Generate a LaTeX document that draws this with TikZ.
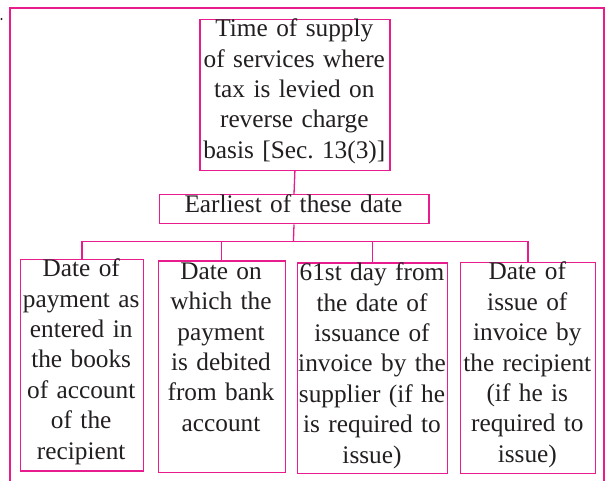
\documentclass[tikz,border=0pt]{standalone}
\usepackage{fontspec}
\setmainfont{Liberation Serif}
\definecolor{mag}{RGB}{232,28,140}
\definecolor{ink}{RGB}{35,31,32}
\frenchspacing
\begin{document}
\begin{tikzpicture}[x=1pt,y=-1pt,
  box/.style={draw=mag,line width=1.2pt,inner sep=0pt,anchor=north west},
  txt/.style={text=ink,font=\fontsize{25.3}{30.4}\selectfont,align=center,text width=320pt,inner sep=0pt,anchor=base},
  link/.style={draw=mag,line width=1.3pt},
  frame/.style={draw=mag,line width=1.4pt}]
\useasboundingbox (0,0) rectangle (606,481);
\fill[white] (0,0) rectangle (606,481);
% outer frame
\coordinate (fa) at (10,481);
\coordinate (fb) at (10,8);
\coordinate (fc) at (604,8);
\coordinate (fd) at (604,481);
\draw[frame] (fa) -- (fb) -- (fc) -- (fd);
\fill[ink] (1.5,19) circle (1.1pt);
% boxes
\node[box,minimum width=190pt,minimum height=151pt] (top) at (199.3,19) {};
\node[box,minimum width=269.8pt,minimum height=29.3pt] (earliest) at (158.5,194) {};
\node[box,minimum width=123.5pt,minimum height=211.5pt] (b1) at (19.5,259) {};
\node[box,minimum width=127.1pt,minimum height=211.2pt] (b2) at (157.5,260.5) {};
\node[box,minimum width=150pt,minimum height=210.8pt] (b3) at (297,262.5) {};
\node[box,minimum width=134.7pt,minimum height=210.7pt] (b4) at (460,262) {};
% texts
\node[txt] (ttop) at (294.3,36.7) {Time of supply\\of services where\\tax is levied on\\reverse charge\\basis [Sec.\ 13(3)]};
\node[txt] (tearliest) at (293.4,212.3) {Earliest of these date};
\node[txt] (t1) at (81.2,276.7) {Date of\\payment as\\entered in\\the books\\of account\\of the\\recipient};
\node[txt] (t2) at (221,279.3) {Date on\\which the\\payment\\is debited\\from bank\\account};
\node[txt] (t3) at (372,280.7) {61st day from\\the date of\\issuance of\\invoice by the\\supplier (if he\\is required to\\issue)};
\node[txt] (t4) at (527.3,280) {Date of\\issue of\\invoice by\\the recipient\\(if he is\\required to\\issue)};
% connectors
\coordinate (bus) at (293.4,241.7);
\draw[link] (top.south) -- (earliest.north);
\draw[link] (earliest.south) -- (bus);
\draw[link] (b1.north) -- (b1.north |- bus) -| (b4.north);
\draw[link] (b2.north) -- (b2.north |- bus);
\draw[link] (b3.north) -- (b3.north |- bus);
\end{tikzpicture}
\end{document}
